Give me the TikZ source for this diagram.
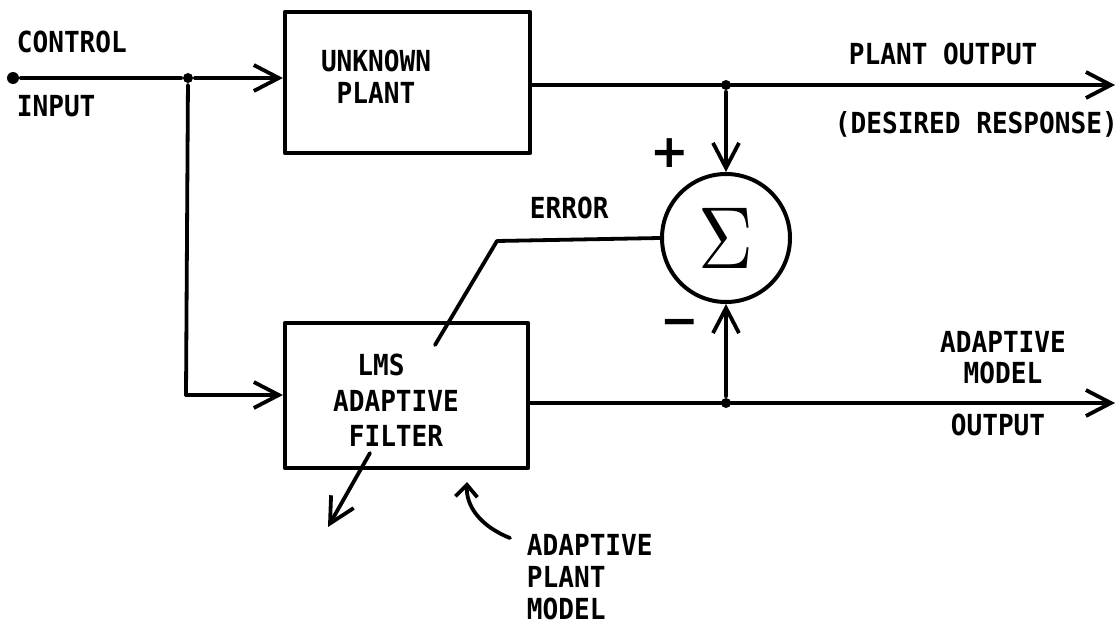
\documentclass[tikz,border=0pt]{standalone}
\usepackage{fontspec}
\usepackage{graphicx}
\usetikzlibrary{arrows.meta}
\newfontfamily\lettering{DejaVu Sans Mono}[FakeStretch=0.9]
\newfontfamily\pmfont{DejaVu Sans}
\begin{document}
\begin{tikzpicture}[x=1pt,y=-1pt,line width=3.8pt,line cap=round,line join=round,
  lab/.style={font=\lettering\bfseries\fontsize{29}{32}\selectfont,inner sep=0pt,align=center},
  blk/.style={draw,line width=4.2pt,inner sep=0pt},
  arr/.style={-{Straight Barb[length=25pt,width=26pt]}},
  arrs/.style={-{Straight Barb[length=12pt,width=22pt]}},
  jdot/.style={circle,fill,inner sep=0pt,minimum size=10pt},
  cdot/.style={circle,fill,inner sep=0pt,minimum size=12pt},
  pm/.style={font=\pmfont\bfseries\fontsize{46}{46}\selectfont,inner sep=0pt}]
\useasboundingbox (0,0) rectangle (1120,626);

% blocks
\node[blk,minimum width=245pt,minimum height=141pt] (plant) at (407.5,82.5) {};
\node[blk,minimum width=243pt,minimum height=145pt] (lms) at (406.5,395.5) {};
\node[draw,circle,line width=4pt,minimum size=128pt,inner sep=0pt] (sum) at (726,238)
  {\scalebox{7.6}[8.8]{$\Sigma$}};

% texts in blocks
\node[lab] (tplant) at (376,77) {UNKNOWN\\PLANT};
\node[lab,font=\lettering\bfseries\fontsize{29}{35.5}\selectfont] (tlms) at (396,400.5)
  {LMS\hspace*{30pt}\\ADAPTIVE\\FILTER};

% junctions
\node[cdot] (cin) at (13,78) {};
\node[jdot] (ja) at (188,78) {};
\node[jdot] (jb) at (726,85) {};
\node[jdot] (jc) at (726,403) {};
\coordinate (lc) at (186,395);
\coordinate (pout) at (1115,85);
\coordinate (mout) at (1115,403);
\coordinate (ek) at (497,241);
\coordinate (ee) at (435,345);
\coordinate (a1s) at (370,453);
\coordinate (a1e) at (328,527);
\coordinate (cs) at (510,538);
\coordinate (ce) at (467,482);

% connectors
\draw (cin) -- (ja);
\draw[arr] (ja) -- (ja -| plant.west);
\draw (ja) -- (lc);
\draw[arr] (lc) -- (lc -| lms.west);
\draw[arr] (jb -| plant.east) -- (pout);
\draw[arr] (jb) -- (sum.north);
\draw[arr] (jc -| lms.east) -- (mout);
\draw[arr] (jc) -- (sum.south);
\draw (sum.west) -- (ek) -- (ee);
\draw[arr] (a1s) -- (a1e);
\draw[arrs] (cs) .. controls (480,526) and (466,506) .. (ce);

% labels
\node[lab,anchor=base west] (lcontrol) at (15,53) {CONTROL};
\node[lab,anchor=base west] (linput) at (15,117) {INPUT};
\node[lab,anchor=base west] (lpo) at (847,65) {PLANT OUTPUT};
\node[lab,anchor=base west] (ldr) at (833,133) {(DESIRED RESPONSE)};
\node[lab,anchor=base west] (lerr) at (528,218) {ERROR};
\node[lab,anchor=base] (lam) at (1003,352) {ADAPTIVE};
\node[lab,anchor=base] (lam2) at (1003,383) {MODEL};
\node[lab,anchor=base] (lao) at (998,435) {OUTPUT};
\node[lab,anchor=base west] (lapm1) at (525,555) {ADAPTIVE};
\node[lab,anchor=base west] (lapm2) at (525,587) {PLANT};
\node[lab,anchor=base west] (lapm3) at (525,619) {MODEL};
\node[pm] (plus) at (670,153) {+};
\node[pm] (minus) at (680,328) {−};
\end{tikzpicture}
\end{document}
